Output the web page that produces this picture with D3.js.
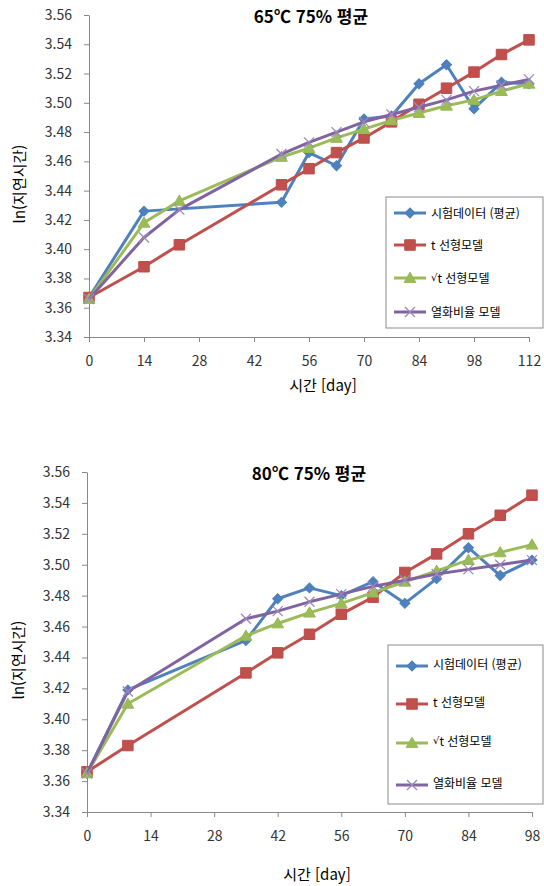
<!DOCTYPE html>
<html lang="ko">
<head>
    <meta charset="UTF-8">
    <title>ln(지연시간) 65℃ / 80℃</title>
    <script src="https://d3js.org/d3.v7.min.js"></script>
    <style>
        body { margin: 0; background: #fff; }
        text { font-family: "Noto Sans CJK KR", "Noto Sans", sans-serif; }
        .tick text { fill: #333; font-size: 14px; }
        .axis path, .axis line { stroke: #888; }
    </style>
</head>
<body>
<svg id="chart" width="544" height="886"></svg>
<script>
    // ---- data ----
    // 65℃ 75% 평균
    var testDays65 = [0, 14, 49, 56, 63, 70, 77, 84, 91, 98, 105, 112];
    var test65 = [3.367, 3.426, 3.432, 3.466, 3.457, 3.489, 3.491, 3.513, 3.526, 3.496, 3.514, 3.513];
    var modelDays65 = [0, 14, 23, 49, 56, 63, 70, 77, 84, 91, 98, 105, 112];
    var tLinear65 = [3.367, 3.388, 3.403, 3.444, 3.455, 3.466, 3.476, 3.487, 3.499, 3.510, 3.521, 3.533, 3.543];
    var sqrtLinear65 = [3.366, 3.418, 3.433, 3.463, 3.469, 3.476, 3.482, 3.488, 3.493, 3.498, 3.502, 3.508, 3.513];
    var degradation65 = [3.366, 3.408, 3.427, 3.465, 3.473, 3.480, 3.487, 3.492, 3.497, 3.502, 3.508, 3.512, 3.516];
    var xTicks65 = [0, 14, 28, 42, 56, 70, 84, 98, 112];

    // 80℃ 75% 평균
    var days80 = [0, 9, 35, 42, 49, 56, 63, 70, 77, 84, 91, 98];
    var test80 = [3.365, 3.419, 3.451, 3.478, 3.485, 3.480, 3.489, 3.475, 3.491, 3.511, 3.493, 3.503];
    var tLinear80 = [3.366, 3.383, 3.430, 3.443, 3.455, 3.468, 3.479, 3.495, 3.507, 3.520, 3.532, 3.545];
    var sqrtLinear80 = [3.365, 3.410, 3.454, 3.462, 3.469, 3.475, 3.482, 3.489, 3.496, 3.503, 3.508, 3.513];
    var degradation80 = [3.365, 3.418, 3.465, 3.470, 3.476, 3.481, 3.486, 3.490, 3.494, 3.497, 3.500, 3.503];
    var xTicks80 = [0, 14, 28, 42, 56, 70, 84, 98];

    var yTicks = [3.34, 3.36, 3.38, 3.40, 3.42, 3.44, 3.46, 3.48, 3.50, 3.52, 3.54, 3.56];
    var seriesNames = ["시험데이터 (평균)", "t 선형모델", "√t 선형모델", "열화비율 모델"];

    var colors = ["#4F81BD", "#C0504D", "#9BBB59", "#8064A2"];
    var markerStroke = ["#4A7EBB", "#BE4B48", "#98B954", "#9d87bf"];

    var svg = d3.select("#chart");

    function zip(xs, ys) {
        return xs.map(function (x, i) { return {x: x, y: ys[i]}; });
    }

    // draws one marker of series s at (0,0) inside g
    function drawMarker(g, s) {
        if (s === 0) {
            g.append("path")
                .attr("d", d3.symbol().type(d3.symbolSquare).size(50)())
                .attr("transform", "rotate(45)")
                .attr("fill", colors[0]).attr("stroke", markerStroke[0]);
        } else if (s === 1) {
            g.append("path")
                .attr("d", d3.symbol().type(d3.symbolSquare).size(110)())
                .attr("fill", colors[1]).attr("stroke", markerStroke[1]);
        } else if (s === 2) {
            g.append("path")
                .attr("d", d3.symbol().type(d3.symbolTriangle).size(60)())
                .attr("transform", "translate(0,1)")
                .attr("fill", colors[2]).attr("stroke", markerStroke[2]);
        } else {
            g.append("path")
                .attr("d", "M-5,-5L5,5M-5,5L5,-5")
                .attr("fill", "none")
                .attr("stroke", markerStroke[3])
                .attr("stroke-width", 1.3);
        }
    }

    function drawChart(cfg) {
        var x = d3.scaleLinear().domain([0, cfg.xMax]).range(cfg.xRange);
        var y = d3.scaleLinear().domain([3.34, 3.56]).range(cfg.yRange);

        var g = svg.append("g");

        // axes
        g.append("g")
            .attr("class", "axis")
            .attr("transform", "translate(0," + cfg.yRange[0] + ")")
            .call(d3.axisBottom(x).tickValues(cfg.xTicks).tickSize(5).tickPadding(14).tickSizeOuter(0));

        g.append("g")
            .attr("class", "axis")
            .attr("transform", "translate(" + cfg.xRange[0] + ",0)")
            .call(d3.axisLeft(y).tickValues(yTicks).tickFormat(d3.format(".2f")).tickSize(5).tickPadding(12).tickSizeOuter(0));

        g.selectAll(".axis text").style("font-family", '"Noto Sans CJK KR", "Noto Sans", sans-serif');

        // title and axis labels
        g.append("text")
            .attr("x", cfg.titleX).attr("y", cfg.titleY)
            .attr("text-anchor", "middle")
            .attr("font-size", 17).attr("font-weight", "bold").attr("fill", "#000")
            .text(cfg.title);

        g.append("text")
            .attr("x", cfg.xLabelX).attr("y", cfg.xLabelY)
            .attr("text-anchor", "middle")
            .attr("font-size", 15).attr("fill", "#000")
            .text("시간 [day]");

        g.append("text")
            .attr("transform", "translate(" + cfg.yLabelX + "," + cfg.yLabelY + ") rotate(-90)")
            .attr("text-anchor", "middle")
            .attr("dominant-baseline", "central")
            .attr("font-size", 15).attr("fill", "#000")
            .text("ln(지연시간)");

        // series
        var line = d3.line()
            .x(function (d) { return x(d.x); })
            .y(function (d) { return y(d.y); });

        cfg.series.forEach(function (pts, s) {
            var sg = g.append("g");
            sg.append("path")
                .datum(pts)
                .attr("d", line)
                .attr("fill", "none")
                .attr("stroke", colors[s])
                .attr("stroke-width", 3)
                .attr("stroke-linejoin", "round");
            sg.selectAll("g.m")
                .data(pts)
                .enter().append("g")
                .attr("class", "m")
                .attr("transform", function (d) { return "translate(" + x(d.x) + "," + y(d.y) + ")"; })
                .each(function () { drawMarker(d3.select(this), s); });
        });

        // legend
        var lg = g.append("g");
        lg.append("rect")
            .attr("x", cfg.legend.x).attr("y", cfg.legend.y)
            .attr("width", cfg.legend.w).attr("height", cfg.legend.h)
            .attr("fill", "#fff").attr("stroke", "#8c8c8c");

        seriesNames.forEach(function (name, s) {
            var ry = cfg.legend.rows[s];
            var it = lg.append("g").attr("transform", "translate(0," + ry + ")");
            it.append("line")
                .attr("x1", cfg.legend.x + 8).attr("x2", cfg.legend.x + 40)
                .attr("y1", cfg.legend.iconDy).attr("y2", cfg.legend.iconDy)
                .attr("stroke", colors[s]).attr("stroke-width", 3);
            drawMarker(it.append("g").attr("transform", "translate(" + (cfg.legend.x + 24) + "," + cfg.legend.iconDy + ")"), s);
            var t = it.append("text")
                .attr("x", cfg.legend.x + 45).attr("y", 0)
                .attr("dominant-baseline", "central")
                .attr("font-size", 12).attr("fill", "#000");
            // the root sign is narrow in the original, take it from DejaVu
            if (name.charAt(0) === "√") {
                t.append("tspan").style("font-family", '"DejaVu Sans", sans-serif').attr("font-size", 10).text("√");
                t.append("tspan").text(name.slice(1));
            } else {
                t.text(name);
            }
        });
    }

    drawChart({
        title: "65℃ 75% 평균",
        xMax: 112, xTicks: xTicks65,
        xRange: [89, 529], yRange: [337, 15],
        titleX: 311, titleY: 23,
        xLabelX: 323, xLabelY: 391,
        yLabelX: 18, yLabelY: 184,
        series: [zip(testDays65, test65), zip(modelDays65, tLinear65),
            zip(modelDays65, sqrtLinear65), zip(modelDays65, degradation65)],
        legend: {x: 386, y: 197, w: 157, h: 131, rows: [212, 244, 277, 311], iconDy: 1}
    });

    drawChart({
        title: "80℃ 75% 평균",
        xMax: 98, xTicks: xTicks80,
        xRange: [87, 532], yRange: [812, 472],
        titleX: 309, titleY: 480,
        xLabelX: 317, xLabelY: 880,
        yLabelX: 17, yLabelY: 660,
        series: [zip(days80, test80), zip(days80, tLinear80),
            zip(days80, sqrtLinear80), zip(days80, degradation80)],
        legend: {x: 388, y: 645, w: 155, h: 159, rows: [663, 701, 740, 782], iconDy: 3}
    });
</script>
</body>
</html>
